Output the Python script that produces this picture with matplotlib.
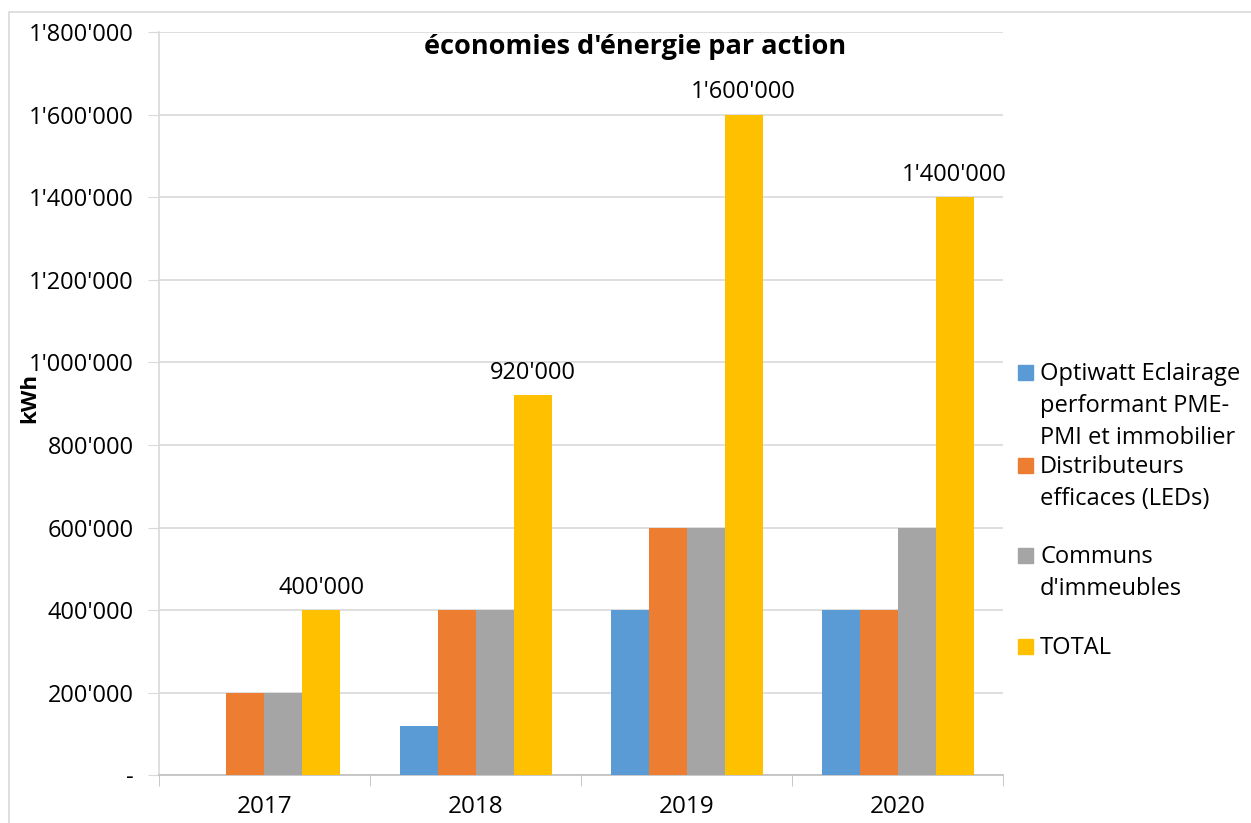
import numpy as np
import matplotlib.pyplot as plt
from matplotlib.ticker import FuncFormatter, FixedLocator
from matplotlib.patches import Rectangle

plt.rcParams['font.family'] = ['Open Sans', 'DejaVu Sans']

years = ['2017', '2018', '2019', '2020']
series_names = ['Optiwatt Eclairage\nperformant PME-\nPMI et immobilier',
                'Distributeurs\nefficaces (LEDs)',
                'Communs\nd\'immeubles',
                'TOTAL']
optiwatt = [0, 120000, 400000, 400000]
distributeurs = [200000, 400000, 600000, 400000]
communs = [200000, 400000, 600000, 600000]
total = [400000, 920000, 1600000, 1400000]
colors = ['#5B9BD5', '#ED7D31', '#A5A5A5', '#FFC000']


def swiss(v):
    if v == 0:
        return '-'
    return f"{v:,.0f}".replace(',', "'")


W, H = 1251, 823
fig = plt.figure(figsize=(W / 100, H / 100), dpi=100)
ax = fig.add_axes([0.127, 0.058, 0.675, 0.903])

x = np.arange(len(years))
w = 0.18
all_series = [optiwatt, distributeurs, communs, total]
for i, (vals, c) in enumerate(zip(all_series, colors)):
    ax.bar(x + (i - 1.5) * w, vals, w, color=c, zorder=3)

# data labels on TOTAL bars
for xi, v in zip(x, total):
    ax.annotate(swiss(v), (xi + 1.5 * w, v), xytext=(0, 16), textcoords='offset points',
                ha='center', va='center', fontsize=17)

ax.set_xlim(-0.5, 3.5)
ax.set_ylim(0, 1800000)
ax.set_yticks(np.arange(0, 1800001, 200000))
ax.yaxis.set_major_formatter(FuncFormatter(lambda v, p: swiss(v)))
ax.grid(axis='y', color='#D9D9D9', linewidth=1.2, zorder=0)
ax.tick_params(axis='y', length=8, color='#D9D9D9', labelsize=17, pad=10)

ax.set_xticks(x)
ax.set_xticklabels(years)
ax.xaxis.set_minor_locator(FixedLocator([-0.5, 0.5, 1.5, 2.5, 3.5]))
ax.tick_params(axis='x', which='major', length=0, labelsize=17.5, pad=14)
ax.tick_params(axis='x', which='minor', length=8, color='#BFBFBF')

for s in ['top', 'right']:
    ax.spines[s].set_visible(False)
ax.spines['left'].set_color('#D9D9D9')
ax.spines['bottom'].set_color('#BFBFBF')
ax.spines['left'].set_linewidth(1.2)
ax.spines['bottom'].set_linewidth(1.2)

fig.text(30 / W, 1 - 398 / H, 'kWh', rotation=90, ha='center', va='center',
         fontsize=16, fontweight='bold')
fig.text(635 / W, 1 - 47 / H, "économies d'énergie par action",
         ha='center', va='center', fontsize=19.5, fontweight='bold')

# legend drawn Excel-style: patch aligned with first line of each label
legend_tops = [372, 465, 555, 646]
for name, c, ytop in zip(series_names, colors, legend_tops):
    fig.patches.append(Rectangle((1018 / W, 1 - (ytop + 8) / H), 15 / W, 15 / H,
                                 transform=fig.transFigure, color=c))
    fig.text(1040 / W, 1 - (ytop - 10) / H, name, ha='left', va='top',
             fontsize=17, linespacing=1.45)

fig.patches.append(Rectangle((0.007, -0.01), 1.0, 0.995, transform=fig.transFigure,
                             fill=False, edgecolor='#D9D9D9', linewidth=1.2))

fig.savefig('out.png', dpi=100)
